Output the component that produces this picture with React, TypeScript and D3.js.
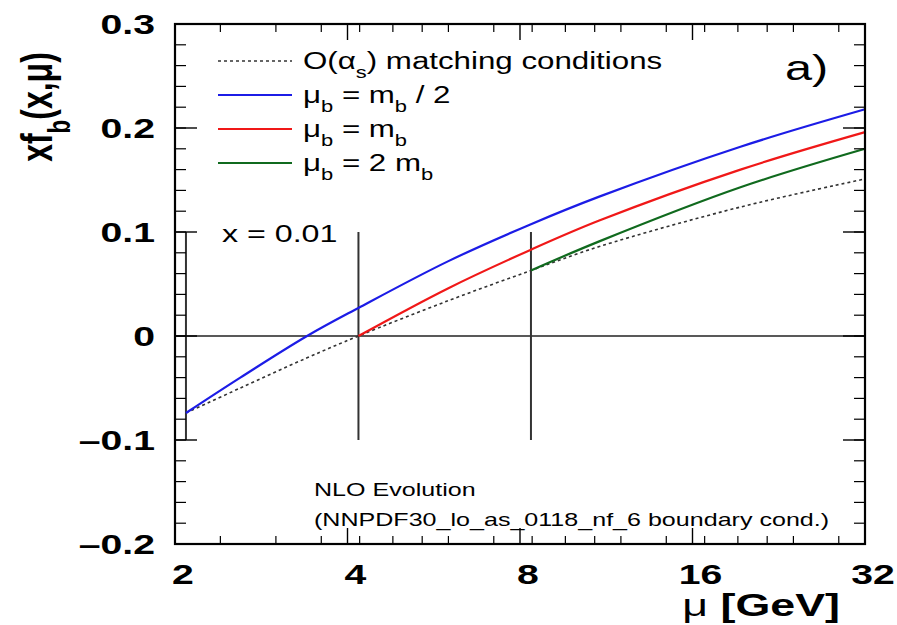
import React from "react";
import * as d3 from "d3";

// ---- data ----
const xMajorTicks = [2, 4, 8, 16, 32];
const xMinorTicks = [2.4, 3.0, 3.6, 4.2, 4.8, 5.4, 6.0, 7.2, 8.4, 9.6, 10.8, 12, 14.4, 16.8, 19.2, 21.6, 24, 28.8];
const yMajorTicks = [-0.2, -0.1, 0, 0.1, 0.2, 0.3];
const yTickLabels = ["\u20130.2", "\u20130.1", "0", "0.1", "0.2", "0.3"];
const yMinorTicks = d3.range(-0.2, 0.3001, 0.02);

const matchingScales = [2.09, 4.18, 8.36];

const dottedMu = [2.09, 2.6, 3.4, 4.18, 6, 8.36, 11, 19.4, 32];
const dottedVals = [-0.074, -0.05, -0.021, 0, 0.034, 0.063, 0.086, 0.124, 0.151];
const blueMu = [2.09, 2.6, 3.4, 4.18, 6, 8.36, 11, 19.4, 32];
const blueVals = [-0.074, -0.04, 0, 0.027, 0.072, 0.1075, 0.134, 0.182, 0.218];
const redMu = [4.18, 6, 8.36, 11, 19.4, 32];
const redVals = [0, 0.046, 0.083, 0.111, 0.16, 0.196];
const greenMu = [8.36, 11, 19.4, 32];
const greenVals = [0.063, 0.091, 0.143, 0.18];

const FONT = "'Liberation Sans', Arial, Helvetica, sans-serif";
const SX = 1.4;

const L = 175, R = 865, T = 24, B = 544;

function SText({ x, y, anchor = "start", size, weight = "normal", sx = SX, children }: any) {
  return (
    <text
      transform={`translate(${x},${y}) scale(${sx},1)`}
      textAnchor={anchor}
      fontSize={size}
      fontWeight={weight}
      fontFamily={FONT}
      fill="#000"
    >
      {children}
    </text>
  );
}

export default function App() {
  const x = d3.scaleLog().base(2).domain([2, 32]).range([L, R]);
  const y = d3.scaleLinear().domain([-0.2, 0.3]).range([B, T]);
  const line = (mus: number[], vals: number[]) =>
    d3
      .line<number>()
      .x((_, i) => x(mus[i]))
      .y((v) => y(v))
      .curve(d3.curveCatmullRom.alpha(0.5))(vals) as string;

  const legend = [
    { color: "#333", dash: "3,3", width: 1.6, label: <>O(α<tspan baselineShift="sub" fontSize="70%">s</tspan>) matching conditions</> },
    { color: "#1c1ce6", dash: null, width: 2.2, label: <>μ<tspan baselineShift="sub" fontSize="70%">b</tspan> = m<tspan baselineShift="sub" fontSize="70%">b</tspan> / 2</> },
    { color: "#f01818", dash: null, width: 2.2, label: <>μ<tspan baselineShift="sub" fontSize="70%">b</tspan> = m<tspan baselineShift="sub" fontSize="70%">b</tspan></> },
    { color: "#106a1e", dash: null, width: 2.2, label: <>μ<tspan baselineShift="sub" fontSize="70%">b</tspan> = 2 m<tspan baselineShift="sub" fontSize="70%">b</tspan></> },
  ];
  const legendY = [61, 95, 129, 163];

  return (
    <svg width={897} height={625} style={{ position: "absolute", left: 0, top: 0, background: "#fff" }}>
      <rect x={0} y={0} width={897} height={625} fill="#fff" />
      {/* zero line */}
      <line x1={L} x2={R} y1={y(0)} y2={y(0)} stroke="#222" strokeWidth={1.5} />
      {/* matching scale vertical lines */}
      {matchingScales.map((m, i) => (
        <line key={i} x1={x(m)} x2={x(m)} y1={y(0.1)} y2={y(-0.1)} stroke="#333" strokeWidth={2} />
      ))}
      {/* curves */}
      <path d={line(dottedMu, dottedVals)} fill="none" stroke="#333" strokeWidth={1.6} strokeDasharray="3,3" />
      <path d={line(greenMu, greenVals)} fill="none" stroke="#106a1e" strokeWidth={2.2} />
      <path d={line(redMu, redVals)} fill="none" stroke="#f01818" strokeWidth={2.2} />
      <path d={line(blueMu, blueVals)} fill="none" stroke="#1c1ce6" strokeWidth={2.2} />

      {/* frame */}
      <rect x={L} y={T} width={R - L} height={B - T} fill="none" stroke="#000" strokeWidth={2.2} />
      {/* x ticks */}
      {xMajorTicks.map((t, i) => (
        <g key={"xM" + i}>
          <line x1={x(t)} x2={x(t)} y1={B} y2={B - 16} stroke="#000" strokeWidth={1.4} />
          <line x1={x(t)} x2={x(t)} y1={T} y2={T + 16} stroke="#000" strokeWidth={1.4} />
        </g>
      ))}
      {xMinorTicks.map((t, i) => (
        <g key={"xm" + i}>
          <line x1={x(t)} x2={x(t)} y1={B} y2={B - 8} stroke="#000" strokeWidth={1.2} />
          <line x1={x(t)} x2={x(t)} y1={T} y2={T + 8} stroke="#000" strokeWidth={1.2} />
        </g>
      ))}
      {/* y ticks */}
      {yMajorTicks.map((t, i) => (
        <g key={"yM" + i}>
          <line x1={L} x2={L + 22} y1={y(t)} y2={y(t)} stroke="#000" strokeWidth={1.4} />
          <line x1={R} x2={R - 22} y1={y(t)} y2={y(t)} stroke="#000" strokeWidth={1.4} />
        </g>
      ))}
      {yMinorTicks.map((t, i) => (
        <g key={"ym" + i}>
          <line x1={L} x2={L + 11} y1={y(t)} y2={y(t)} stroke="#000" strokeWidth={1.2} />
          <line x1={R} x2={R - 11} y1={y(t)} y2={y(t)} stroke="#000" strokeWidth={1.2} />
        </g>
      ))}
      {/* tick labels */}
      {yMajorTicks.map((t, i) => (
        <SText key={"yl" + i} x={155} y={y(t) + 10} anchor="end" size={28} weight="bold">
          {yTickLabels[i]}
        </SText>
      ))}
      {xMajorTicks.map((t, i) => (
        <SText key={"xl" + i} x={x(t) + 8} y={584} anchor="middle" size={28} weight="bold">
          {String(t)}
        </SText>
      ))}
      {/* axis titles */}
      <SText x={840} y={616} anchor="end" size={32} weight="bold">
        <tspan fontWeight="normal">μ</tspan> [GeV]
      </SText>
      <text
        transform={`translate(52,107) rotate(-90) scale(1,1.4)`}
        textAnchor="middle"
        fontSize={32}
        fontWeight="bold"
        fontFamily={FONT}
      >
        xf<tspan baselineShift="sub" fontSize="70%">b</tspan>(x,μ)
      </text>

      {/* legend */}
      {legend.map((e, i) => (
        <g key={"lg" + i}>
          <line x1={218} x2={292} y1={legendY[i]} y2={legendY[i]} stroke={e.color} strokeWidth={e.width} strokeDasharray={e.dash ?? undefined} />
          <SText x={303} y={legendY[i] + 8} size={23} sx={1.36}>
            {e.label}
          </SText>
        </g>
      ))}
      <SText x={785} y={80} size={36} sx={1.35}>a)</SText>
      <SText x={222} y={242} size={23}>x = 0.01</SText>
      <SText x={314} y={496} size={19} sx={1.32}>NLO Evolution</SText>
      <SText x={314} y={526} size={19} sx={1.32}>(NNPDF30_lo_as_0118_nf_6 boundary cond.)</SText>
    </svg>
  );
}
